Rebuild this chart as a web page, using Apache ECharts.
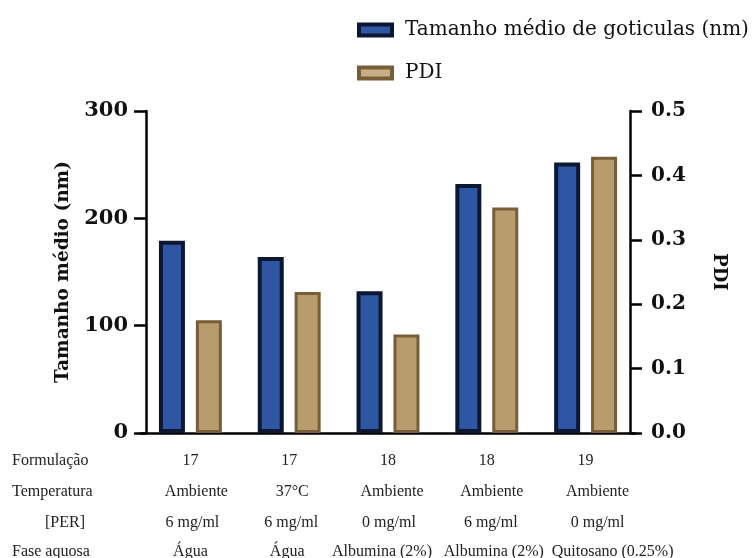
<!DOCTYPE html>
<html>
<head>
<meta charset="utf-8">
<script src="https://cdn.jsdelivr.net/npm/echarts@6/dist/echarts.min.js"></script>
<style>
  html, body { margin: 0; padding: 0; background: #ffffff; }
  #chart { width: 754px; height: 558px; }
</style>
</head>
<body>
<div id="chart"></div>
<script>
// Sample descriptors (one entry per formulation column)
const formulacao = ['17', '17', '18', '18', '19'];
const temperatura = ['Ambiente', '37°C', 'Ambiente', 'Ambiente', 'Ambiente'];
const per = ['6 mg/ml', '6 mg/ml', '0 mg/ml', '6 mg/ml', '0 mg/ml'];
const faseAquosa = ['Água', 'Água', 'Albumina (2%)', 'Albumina (2%)', 'Quitosano (0.25%)'];

// Row headings of the descriptor table under the axis
const rowLabels = ['Formulação', 'Temperatura', '[PER]', 'Fase aquosa'];

// Measured values
const tamanhoMedio = [179, 164, 132, 232, 252];
const pdi = [0.175, 0.219, 0.153, 0.350, 0.429];

const seriesNames = ['Tamanho médio de goticulas (nm)', 'PDI'];
const leftTicks = { min: 0, max: 300, interval: 100 };
const rightTicks = { min: 0, max: 0.5, interval: 0.1 };

// Layout of the descriptor table: row centres and small per-cell nudges (px)
const tableRowY = [461, 492, 523, 552];
const tableNudge = [
  [0, 0, 0, 0, 0],
  [6, 3, 4, 5, 12],
  [2, 2, 1, 4, 12],
  [0, -2, -6, 7, 27]
];

const serif = '"DejaVu Serif", serif';
const tableFont = '"Liberation Serif", serif';
const tableRows = [formulacao, temperatura, per, faseAquosa];

const chart = echarts.init(document.getElementById('chart'), null, { renderer: 'canvas' });

const axisStroke = { color: '#000', width: 2.5 };
const blueStyle = { color: '#2E56A3', borderColor: '#0C1833', borderWidth: 4 };
const tanStyle = { color: '#B79C6E', borderColor: '#775E37', borderWidth: 3 };

chart.setOption({
  backgroundColor: '#ffffff',
  animation: false,
  legend: {
    orient: 'vertical',
    left: 352,
    top: 15,
    itemWidth: 33,
    itemHeight: 11,
    itemGap: 23,
    icon: 'rect',
    textStyle: { fontFamily: serif, fontSize: 20, color: '#111', padding: [0, 0, 0, 8] },
    data: [
      { name: seriesNames[0], itemStyle: { color: '#2E56A3', borderColor: '#0C1833', borderWidth: 4 } },
      { name: seriesNames[1], itemStyle: { color: '#C7AE84', borderColor: '#775E37', borderWidth: 4 } }
    ]
  },
  grid: { left: 141, right: 119, top: 111, bottom: 125, outerBoundsMode: 'none' },
  xAxis: {
    type: 'category',
    data: formulacao.map((f, i) => i),
    axisLine: { lineStyle: axisStroke },
    axisTick: { alignWithLabel: true, length: 12, lineStyle: axisStroke },
    axisLabel: { show: false }
  },
  yAxis: [
    {
      type: 'value',
      min: leftTicks.min, max: leftTicks.max, interval: leftTicks.interval,
      offset: -5,
      name: 'Tamanho médio (nm)',
      nameLocation: 'middle',
      nameGap: 73,
      nameTextStyle: { fontFamily: serif, fontWeight: 'bold', fontSize: 18.5, color: '#111' },
      axisLine: { show: true, lineStyle: axisStroke },
      axisTick: { show: true, length: 12, lineStyle: axisStroke },
      axisLabel: { margin: 18, fontFamily: serif, fontWeight: 'bold', fontSize: 21, color: '#111' },
      splitLine: { show: false }
    },
    {
      type: 'value',
      min: rightTicks.min, max: rightTicks.max, interval: rightTicks.interval,
      offset: -5,
      position: 'right',
      name: 'PDI',
      nameLocation: 'middle',
      nameGap: 80,
      nameRotate: -90,
      nameTextStyle: { fontFamily: serif, fontWeight: 'bold', fontSize: 18, color: '#111' },
      axisLine: { show: true, lineStyle: axisStroke },
      axisTick: { show: true, length: 12, lineStyle: axisStroke },
      axisLabel: {
        margin: 21, fontFamily: serif, fontWeight: 'bold', fontSize: 20, color: '#111',
        formatter: (v) => v.toFixed(1)
      },
      splitLine: { show: false }
    }
  ],
  series: [
    {
      name: seriesNames[0],
      type: 'bar',
      yAxisIndex: 0,
      barWidth: 26,
      barGap: '42%',
      data: tamanhoMedio,
      itemStyle: blueStyle
    },
    {
      name: seriesNames[1],
      type: 'bar',
      yAxisIndex: 1,
      barWidth: 26,
      data: pdi,
      itemStyle: tanStyle
    }
  ]
});

// Descriptor table: row headings at the left, cells centred under each category
const graphics = rowLabels.map((t, r) => ({
  type: 'text',
  x: r === 2 ? 65 : 12,
  y: tableRowY[r],
  style: {
    text: t, font: '16px ' + tableFont, fill: '#222',
    textAlign: r === 2 ? 'center' : 'left', textVerticalAlign: 'middle'
  }
}));
tableRows.forEach((row, r) => {
  row.forEach((txt, c) => {
    const cx = chart.convertToPixel({ xAxisIndex: 0 }, c);
    graphics.push({
      type: 'text',
      x: cx + tableNudge[r][c],
      y: tableRowY[r],
      style: {
        text: txt, font: '16px ' + tableFont, fill: '#222',
        textAlign: 'center', textVerticalAlign: 'middle'
      }
    });
  });
});
chart.setOption({ graphic: graphics });
</script>
</body>
</html>
